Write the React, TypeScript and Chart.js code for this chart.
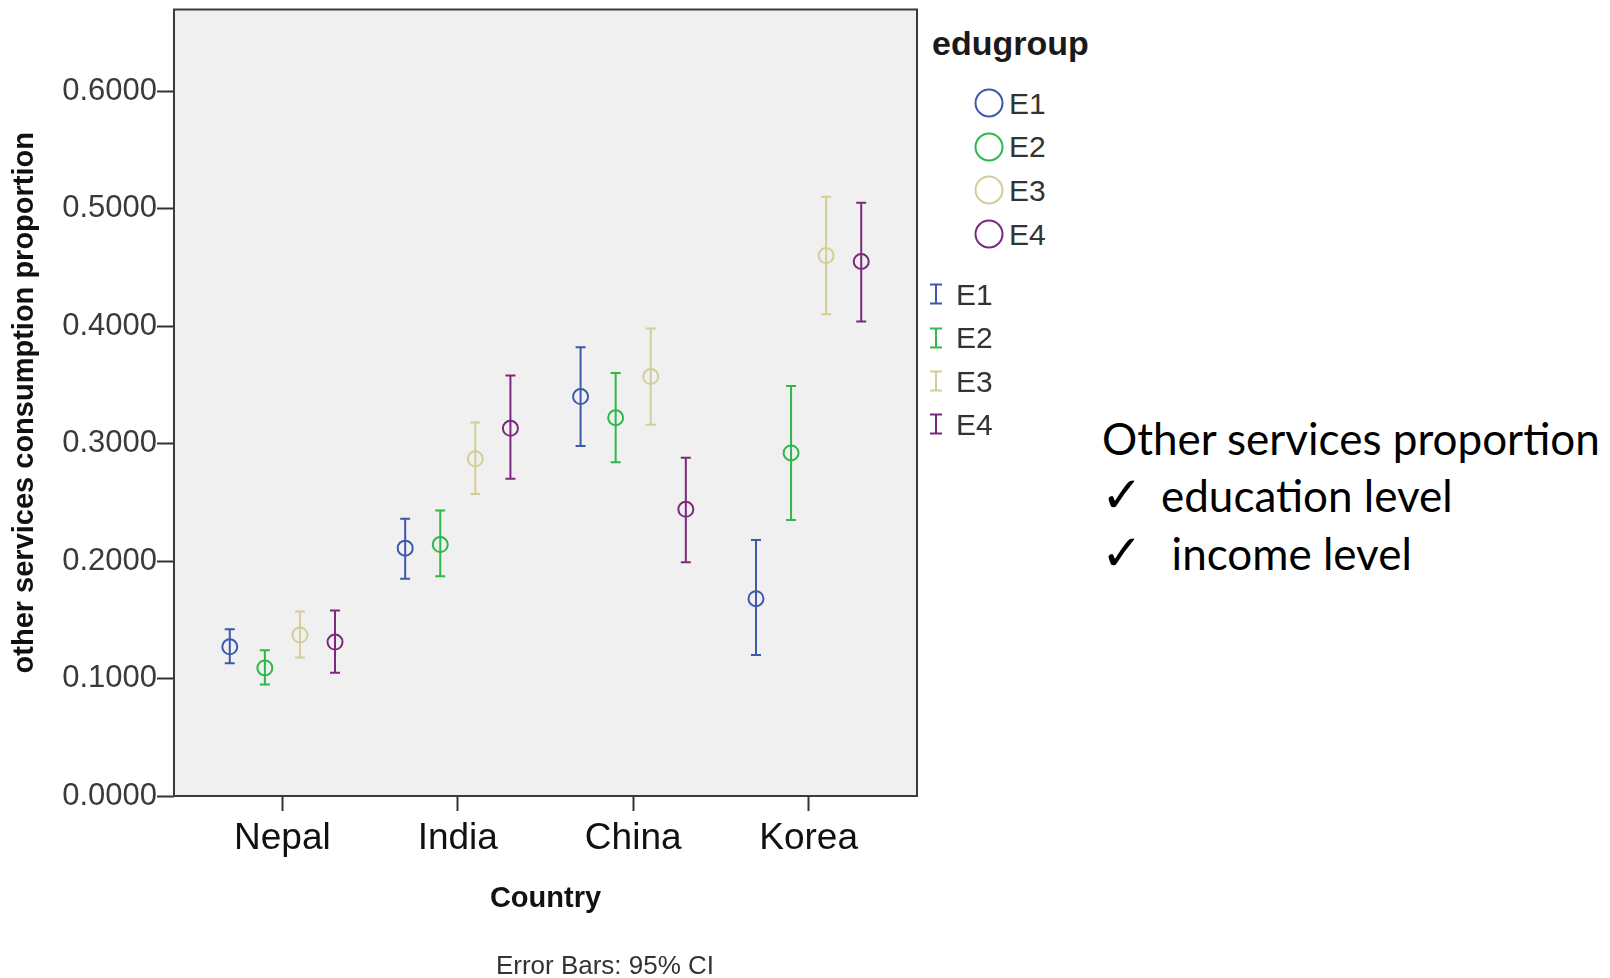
import React, { useEffect, useRef } from 'react';
import { Chart, registerables } from 'chart.js';

Chart.register(...registerables);

// ---- Data ----
const countries = ['Nepal', 'India', 'China', 'Korea'];
const groups = ['E1', 'E2', 'E3', 'E4'];
const groupOffsets = [-0.3, -0.1, 0.1, 0.3];
const groupColors = ['#3e58ac', '#2eb848', '#d3ce97', '#7c287d'];

const e1Mean = [0.127, 0.211, 0.340, 0.168];
const e1Low = [0.113, 0.185, 0.298, 0.120];
const e1High = [0.142, 0.236, 0.382, 0.218];

const e2Mean = [0.109, 0.214, 0.322, 0.292];
const e2Low = [0.095, 0.187, 0.284, 0.235];
const e2High = [0.124, 0.243, 0.360, 0.349];

const e3Mean = [0.137, 0.287, 0.357, 0.460];
const e3Low = [0.118, 0.257, 0.316, 0.410];
const e3High = [0.157, 0.318, 0.398, 0.510];

const e4Mean = [0.131, 0.313, 0.244, 0.455];
const e4Low = [0.105, 0.270, 0.199, 0.404];
const e4High = [0.158, 0.358, 0.288, 0.505];

const means = [e1Mean, e2Mean, e3Mean, e4Mean];
const lows = [e1Low, e2Low, e3Low, e4Low];
const highs = [e1High, e2High, e3High, e4High];

const yTickValues = [0, 0.1, 0.2, 0.3, 0.4, 0.5, 0.6];

const SANS = "'Liberation Sans', Arial, sans-serif";

const bgPlugin = {
  id: 'plotBg',
  beforeDraw(chart: any) {
    const { ctx, chartArea } = chart;
    ctx.save();
    ctx.fillStyle = '#f0f0f0';
    ctx.fillRect(chartArea.left, chartArea.top, chartArea.right - chartArea.left, chartArea.bottom - chartArea.top);
    ctx.restore();
  },
  afterDraw(chart: any) {
    const { ctx, chartArea } = chart;
    ctx.save();
    ctx.strokeStyle = '#3a3a3a';
    ctx.lineWidth = 2;
    ctx.strokeRect(chartArea.left, chartArea.top, chartArea.right - chartArea.left, chartArea.bottom - chartArea.top);
    ctx.restore();
  },
};

const errorBarPlugin = {
  id: 'errorBars',
  beforeDatasetsDraw(chart: any) {
    const { ctx } = chart;
    const xs = chart.scales.x;
    const ys = chart.scales.y;
    ctx.save();
    chart.data.datasets.forEach((ds: any) => {
      ctx.strokeStyle = ds.borderColor;
      ctx.lineWidth = 2;
      ds.data.forEach((p: any) => {
        const px = xs.getPixelForValue(p.x);
        const pl = ys.getPixelForValue(p.low);
        const ph = ys.getPixelForValue(p.high);
        ctx.beginPath();
        ctx.moveTo(px, ph);
        ctx.lineTo(px, pl);
        ctx.moveTo(px - 5, ph);
        ctx.lineTo(px + 5, ph);
        ctx.moveTo(px - 5, pl);
        ctx.lineTo(px + 5, pl);
        ctx.stroke();
      });
    });
    ctx.restore();
  },
};

function ChartCanvas() {
  const ref = useRef<HTMLCanvasElement | null>(null);
  useEffect(() => {
    if (!ref.current) return;
    const datasets = groups.map((g, gi) => ({
      label: g,
      data: countries.map((_, ci) => ({
        x: ci + groupOffsets[gi],
        y: means[gi][ci],
        low: lows[gi][ci],
        high: highs[gi][ci],
      })),
      borderColor: groupColors[gi],
      backgroundColor: 'rgba(0,0,0,0)',
      pointStyle: 'circle',
      pointRadius: 7.5,
      pointBorderWidth: 2,
      showLine: false,
    }));
    const chart = new Chart(ref.current, {
      type: 'scatter',
      data: { datasets } as any,
      plugins: [bgPlugin, errorBarPlugin],
      options: {
        responsive: false,
        animation: false,
        devicePixelRatio: 1,
        layout: { padding: { left: 0, right: 13, top: 8, bottom: 0 } },
        plugins: {
          legend: { display: false },
          tooltip: { enabled: false },
        },
        scales: {
          x: {
            type: 'linear',
            min: -0.618,
            max: 3.618,
            afterBuildTicks: (s: any) => {
              s.ticks = countries.map((_, i) => ({ value: i }));
            },
            afterFit: (s: any) => {
              s.height = 182;
              s.paddingLeft = 0;
              s.paddingRight = 0;
            },
            ticks: {
              autoSkip: false,
              maxRotation: 0,
              callback: (v: any) => countries[Math.round(Number(v))] ?? '',
              font: { family: SANS, size: 37 },
              color: '#111',
              padding: 6,
            },
            grid: { drawOnChartArea: false, drawTicks: true, tickLength: 15, tickColor: '#333', tickWidth: 2 },
            border: { display: false },
            title: {
              display: true,
              text: 'Country',
              font: { family: SANS, size: 29, weight: 'bold' },
              color: '#111',
              padding: { top: 0, bottom: 62 },
            },
          },
          y: {
            type: 'linear',
            min: 0,
            max: 0.6695,
            afterBuildTicks: (s: any) => {
              s.ticks = yTickValues.map((v) => ({ value: v }));
            },
            afterFit: (s: any) => {
              s.width = 174;
              s.paddingTop = 0;
              s.paddingBottom = 0;
            },
            ticks: {
              callback: (v: any) => Number(v).toFixed(4),
              font: { family: SANS, size: 31 },
              color: '#3a3a3a',
              padding: 0,
            },
            grid: { drawOnChartArea: false, drawTicks: true, tickLength: 17, tickColor: '#333', tickWidth: 2 },
            border: { display: false },
            title: {
              display: true,
              text: 'other services consumption proportion',
              font: { family: SANS, size: 29, weight: 'bold' },
              color: '#111',
              padding: { top: 8, bottom: 0 },
            },
          },
        },
      } as any,
    });
    return () => chart.destroy();
  }, []);
  return (
    <canvas
      ref={ref}
      width={930}
      height={978}
      style={{ position: 'absolute', left: 0, top: 0, width: 930, height: 978, display: 'block' }}
    />
  );
}

const legendCircleY = [103, 146.5, 190, 234];
const legendBarY = [294, 337.5, 381, 424];

export default function App() {
  const labelStyle = (cy: number, left: number): React.CSSProperties => ({
    position: 'absolute',
    left,
    top: cy - 0.547 * 30,
    fontFamily: SANS,
    fontSize: 30,
    lineHeight: `${30 * 1.117}px`,
    color: '#333',
    whiteSpace: 'nowrap',
  });
  const lato = "Lato, 'Open Sans', sans-serif";
  const lineTop = (baseline: number) => baseline - 0.987 * 44;
  const checkTop = (baseline: number) => baseline - 0.928 * 50;
  const checkStyle = (baseline: number): React.CSSProperties => ({
    position: 'absolute',
    left: 1101,
    top: checkTop(baseline),
    fontFamily: "'DejaVu Sans', sans-serif",
    fontSize: 50,
    lineHeight: `${1.164 * 50}px`,
    fontWeight: 'bold',
    color: '#000',
  });
  return (
    <div style={{ position: 'absolute', left: 0, top: 0, width: 1610, height: 978, background: '#fff', overflow: 'hidden' }}>
      <ChartCanvas />
      <div
        style={{
          position: 'absolute',
          left: 932,
          top: 42.6 - 0.547 * 34,
          fontFamily: SANS,
          fontWeight: 'bold',
          fontSize: 34,
          lineHeight: `${34 * 1.117}px`,
          color: '#1a1a1a',
        }}
      >
        edugroup
      </div>
      {groups.map((g, i) => (
        <React.Fragment key={'c' + g}>
          <svg style={{ position: 'absolute', left: 972, top: legendCircleY[i] - 17 }} width={34} height={34}>
            <circle cx={17} cy={17} r={13.5} fill="none" stroke={groupColors[i]} strokeWidth={2} />
          </svg>
          <div style={labelStyle(legendCircleY[i], 1009)}>{g}</div>
        </React.Fragment>
      ))}
      {groups.map((g, i) => (
        <React.Fragment key={'b' + g}>
          <svg style={{ position: 'absolute', left: 926, top: legendBarY[i] - 12 }} width={20} height={24}>
            <line x1={10} y1={2.5} x2={10} y2={21.5} stroke={groupColors[i]} strokeWidth={2} />
            <line x1={4} y1={2.5} x2={16} y2={2.5} stroke={groupColors[i]} strokeWidth={2} />
            <line x1={4} y1={21.5} x2={16} y2={21.5} stroke={groupColors[i]} strokeWidth={2} />
          </svg>
          <div style={labelStyle(legendBarY[i], 956)}>{g}</div>
        </React.Fragment>
      ))}
      <div
        style={{
          position: 'absolute',
          left: 605,
          top: 965 - 0.547 * 26,
          transform: 'translateX(-50%)',
          fontFamily: SANS,
          fontSize: 26,
          lineHeight: `${26 * 1.117}px`,
          color: '#333',
          whiteSpace: 'nowrap',
        }}
      >
        Error Bars: 95% CI
      </div>
      <div style={{ position: 'absolute', left: 1102, top: lineTop(455), fontFamily: lato, fontSize: 44, lineHeight: '52.8px', color: '#000', whiteSpace: 'nowrap' }}>
        Other services proportion
      </div>
      <div style={checkStyle(512.5)}>✓</div>
      <div style={{ position: 'absolute', left: 1161, top: lineTop(512.5), fontFamily: lato, fontSize: 44, lineHeight: '52.8px', color: '#000', whiteSpace: 'nowrap' }}>
        education level
      </div>
      <div style={checkStyle(570)}>✓</div>
      <div style={{ position: 'absolute', left: 1171.6, top: lineTop(570), fontFamily: lato, fontSize: 44, lineHeight: '52.8px', color: '#000', whiteSpace: 'nowrap' }}>
        income level
      </div>
    </div>
  );
}
